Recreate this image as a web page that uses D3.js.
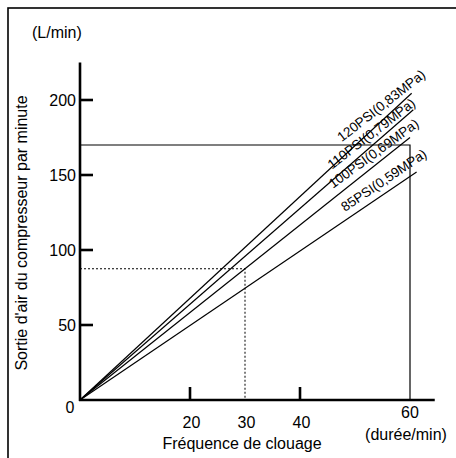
<!doctype html>
<html>
<head>
<meta charset="utf-8">
<title>Sortie d'air du compresseur</title>
<style type="text/css">
  body { margin: 0; background: #fff; }
  svg { font-family: "Liberation Sans", Arial, sans-serif; }
</style>
</head>
<body>
<div id="my_dataviz"></div>

<script src="https://d3js.org/d3.v7.min.js"></script>
<script>
// pressure lines: label + where each line ends (frequence, L/min)
const seriesLabels = ["120PSI(0,83MPa)", "110PSI(0,79MPa)", "100PSI(0,69MPa)", "85PSI(0,59MPa)"];
const seriesEndX = [60.3, 60.6, 60, 61.2];
const seriesEndY = [204.5, 193.5, 175, 152];

const yTicks = [50, 100, 150, 200];
const xTicks = [20, 40];
const xLabels = [20, 30, 40];

// reference lines
const maxFreq = 60, maxFlow = 170;
const exFreq = 30, exFlow = 87.5;

// label layout (where along the line the text starts, lift in px, tilt in deg)
const labelStartX = [47.6, 45.8, 46, 48.2];
const labelLift = [15.5, 11, 10, 8.5];
const labelAngle = [38, 37.5, 36, 34];

var width = 456, height = 458;

var svg = d3.select("#my_dataviz")
  .append("svg")
  .attr("width", width)
  .attr("height", height);

var x = d3.scaleLinear().domain([0, 60]).range([80, 410]);
var y = d3.scaleLinear().domain([0, 200]).range([400, 100]);

// frame
svg.append("rect")
  .attr("x", 8).attr("y", 8)
  .attr("width", 470).attr("height", 470)
  .attr("fill", "none")
  .attr("stroke", "#000")
  .attr("stroke-width", 1.6);

// max box (60 / 170)
svg.append("path")
  .attr("d", "M" + x(0) + "," + y(maxFlow) + "H" + x(maxFreq) + "V" + y(0))
  .attr("fill", "none")
  .attr("stroke", "#000")
  .attr("stroke-width", 1.2);

// dotted example at 30
svg.append("path")
  .attr("d", "M" + x(0) + "," + y(exFlow) + "H" + x(exFreq) + "V" + y(0))
  .attr("fill", "none")
  .attr("stroke", "#000")
  .attr("stroke-width", 1)
  .attr("stroke-dasharray", "2,2");

// pressure lines
var line = d3.line().x(d => x(d[0])).y(d => y(d[1]));
seriesLabels.forEach(function(lab, i) {
  svg.append("path")
    .attr("d", line([[0, 0], [seriesEndX[i], seriesEndY[i]]]))
    .attr("fill", "none")
    .attr("stroke", "#000")
    .attr("stroke-width", 1.2);

  // point on the line where the label begins
  var v = seriesEndY[i] * labelStartX[i] / seriesEndX[i];
  var px = x(labelStartX[i]), py = y(v) - labelLift[i];
  svg.append("text")
    .attr("transform", "translate(" + px + "," + py + ") rotate(" + (-labelAngle[i]) + ")")
    .attr("text-anchor", "start")
    .style("font-size", "13.5px")
    .text(lab);
});

// axes
svg.append("line")
  .attr("x1", x(0)).attr("x2", x(0))
  .attr("y1", y(0) + 1).attr("y2", y(225))
  .attr("stroke", "#000").attr("stroke-width", 2.6);
svg.append("line")
  .attr("x1", x(0) - 1).attr("x2", x(64.5))
  .attr("y1", y(0)).attr("y2", y(0))
  .attr("stroke", "#000").attr("stroke-width", 2.6);

svg.selectAll(".ytick")
  .data(yTicks)
  .enter().append("line")
  .attr("class", "ytick")
  .attr("x1", x(0)).attr("x2", x(0) + 13)
  .attr("y1", d => y(d)).attr("y2", d => y(d))
  .attr("stroke", "#000").attr("stroke-width", 2.6);

svg.selectAll(".xtick")
  .data(xTicks)
  .enter().append("line")
  .attr("class", "xtick")
  .attr("x1", d => x(d)).attr("x2", d => x(d))
  .attr("y1", y(0)).attr("y2", y(0) - 13)
  .attr("stroke", "#000").attr("stroke-width", 2.6);

// tick labels
svg.selectAll(".ylab")
  .data(yTicks)
  .enter().append("text")
  .attr("class", "ylab")
  .attr("x", x(0) - 4)
  .attr("y", d => y(d) + 6)
  .attr("text-anchor", "end")
  .style("font-size", "16px")
  .text(d => d);

svg.append("text")
  .attr("x", 70).attr("y", 413)
  .attr("text-anchor", "middle")
  .style("font-size", "16px")
  .text("0");

svg.selectAll(".xlab")
  .data(xLabels)
  .enter().append("text")
  .attr("class", "xlab")
  .attr("x", d => x(d) + 1.5)
  .attr("y", 428)
  .attr("text-anchor", "middle")
  .style("font-size", "16px")
  .text(d => d);

svg.append("text")
  .attr("x", x(maxFreq)).attr("y", 418)
  .attr("text-anchor", "middle")
  .style("font-size", "16px")
  .text("60");

svg.append("text")
  .attr("x", 406).attr("y", 440)
  .attr("text-anchor", "middle")
  .style("font-size", "16px")
  .text("(durée/min)");

svg.append("text")
  .attr("x", 242).attr("y", 449)
  .attr("text-anchor", "middle")
  .style("font-size", "16px")
  .text("Fréquence de clouage");

svg.append("text")
  .attr("x", 32).attr("y", 38)
  .style("font-size", "16px")
  .text("(L/min)");

svg.append("text")
  .attr("transform", "translate(27,233) rotate(-90)")
  .attr("text-anchor", "middle")
  .style("font-size", "16px")
  .text("Sortie d'air du compresseur par minute");
</script>
</body>
</html>
